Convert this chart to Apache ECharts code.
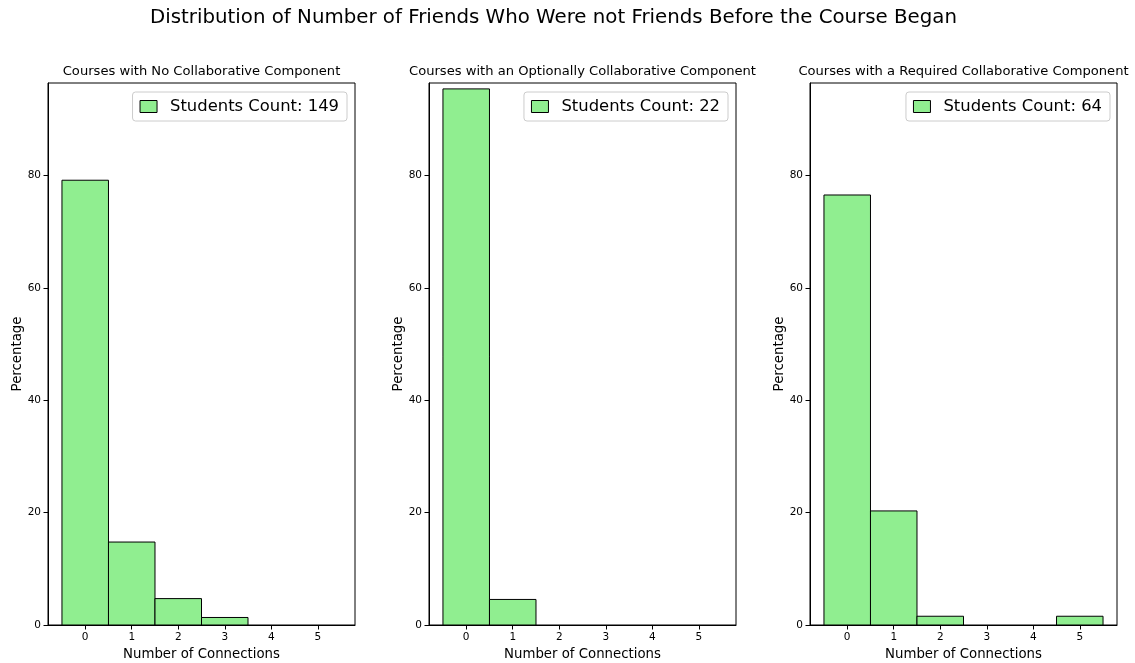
<!DOCTYPE html>
<html><head><meta charset="utf-8">
<script src="https://cdn.jsdelivr.net/npm/echarts@6/dist/echarts.min.js"></script>
<style>html,body{margin:0;padding:0;background:#fff}#c{width:1135px;height:663px}</style>
</head><body><div id="c"></div>
<script>
const mainTitle = 'Distribution of Number of Friends Who Were not Friends Before the Course Began';
const panelTitles = ['Courses with No Collaborative Component', 'Courses with an Optionally Collaborative Component', 'Courses with a Required Collaborative Component'];
const connections = [0, 1, 2, 3, 4, 5];
const xTicks = [0, 1, 2, 3, 4, 5];
const yTicks = [0, 20, 40, 60, 80];
const noCollabPct = [79.19, 14.77, 4.70, 1.34, 0, 0];
const optionalCollabPct = [95.45, 4.55, 0, 0, 0, 0];
const requiredCollabPct = [76.56, 20.31, 1.56, 0, 0, 1.56];
const studentCounts = [149, 22, 64];

const FONT = 'DejaVu Sans';
const panels = [noCollabPct, optionalCollabPct, requiredCollabPct];
const gridLefts = [48, 429, 810];
const gridW = 307;
const legendRights = [788, 407, 25];

function renderItem(params, api) {
  const x = api.value(0), y = api.value(1);
  const p0 = api.coord([x - 0.5, y]);
  const p1 = api.coord([x + 0.5, 0]);
  return {
    type: 'rect',
    shape: { x: p0[0], y: p0[1], width: p1[0] - p0[0], height: p1[1] - p0[1] },
    style: { fill: '#90EE90', stroke: '#000', lineWidth: 1 }
  };
}

const grid = [], xAxis = [], yAxis = [], series = [], legend = [], graphic = [];
panels.forEach((vals, i) => {
  const name = 'Students Count: ' + studentCounts[i];
  grid.push({ left: gridLefts[i], top: 83, width: gridW, height: 542, outerBoundsMode: 'none', containLabel: false, show: true, borderColor: '#000', borderWidth: 1, backgroundColor: 'transparent' });
  xAxis.push({
    type: 'value', gridIndex: i, min: -0.8, max: 5.8,
    name: 'Number of Connections', nameLocation: 'middle', nameGap: 22,
    nameTextStyle: { fontFamily: FONT, fontSize: 13.3, color: '#000' },
    axisLine: { show: true, onZero: false, lineStyle: { color: '#000', width: 1 } },
    axisTick: { show: true, length: 4.5, customValues: xTicks, lineStyle: { color: '#000' } },
    axisLabel: { customValues: xTicks, margin: 7, fontFamily: FONT, fontSize: 10.5, color: '#000' },
    splitLine: { show: false }
  });
  yAxis.push({
    type: 'value', gridIndex: i, min: 0, max: 96.5,
    name: 'Percentage', nameLocation: 'middle', nameGap: 24,
    nameTextStyle: { fontFamily: FONT, fontSize: 13.3, color: '#000' },
    axisLine: { show: true, onZero: false, lineStyle: { color: '#000', width: 1 } },
    axisTick: { show: true, length: 4.5, customValues: yTicks, lineStyle: { color: '#000' } },
    axisLabel: { customValues: yTicks, margin: 7, fontFamily: FONT, fontSize: 10.5, color: '#000' },
    splitLine: { show: false }
  });
  series.push({
    type: 'custom', name: name, xAxisIndex: i, yAxisIndex: i,
    renderItem: renderItem,
    itemStyle: { color: '#90EE90', borderColor: '#000', borderWidth: 1 },
    data: connections.map((c, k) => [c, vals[k]]).filter(d => d[1] > 0)
  });
  legend.push({
    data: [{ name: name, icon: 'rect', itemStyle: { color: '#90EE90', borderColor: '#000', borderWidth: 1 } }],
    right: legendRights[i], top: 92,
    padding: [6, 8, 6, 7], itemWidth: 17, itemHeight: 12,
    borderColor: '#cccccc', borderWidth: 1, borderRadius: 3, backgroundColor: '#fff',
    selectedMode: false,
    textStyle: { fontFamily: FONT, fontSize: 16.4, color: '#000', padding: [0, 0, 0, 8], lineHeight: 17 }
  });
  graphic.push({
    type: 'text', x: gridLefts[i] + gridW / 2, y: 72,
    style: { text: panelTitles[i], fontFamily: FONT, fontSize: 13.1, fill: '#000', textAlign: 'center', textVerticalAlign: 'middle' }
  });
});
graphic.push({
  type: 'text', x: 553.5, y: 18,
  style: { text: mainTitle, fontFamily: FONT, fontSize: 19.8, fill: '#000', textAlign: 'center', textVerticalAlign: 'middle' }
});

const chart = echarts.init(document.getElementById('c'), null, { renderer: 'canvas' });
chart.setOption({
  animation: false,
  backgroundColor: '#fff',
  grid, xAxis, yAxis, series, legend, graphic
});
</script></body></html>
